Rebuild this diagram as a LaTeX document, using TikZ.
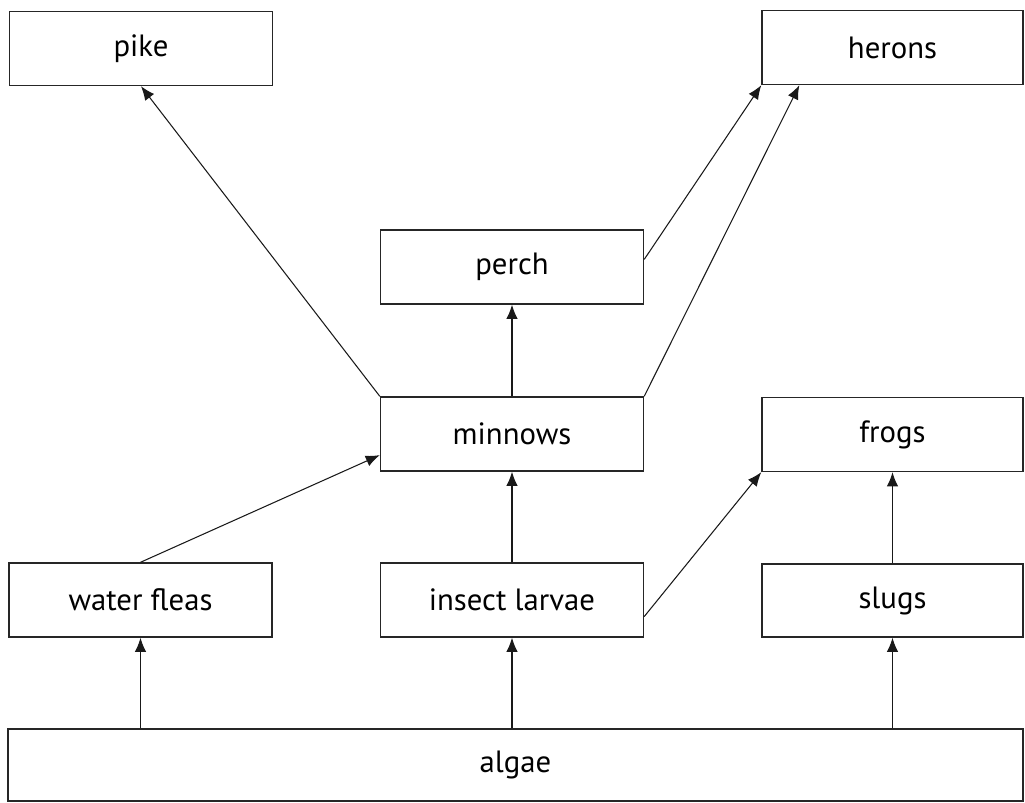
\documentclass[tikz,border=0pt]{standalone}
\usepackage{fontspec}
\setmainfont{PT Sans}
\usetikzlibrary{arrows.meta,calc}
\begin{document}
\begin{tikzpicture}[x=0.02cm,y=-0.02cm,
  box/.style={draw=black!85,line width=0.8pt,minimum width=263*0.02cm,minimum height=74*0.02cm,inner sep=0pt,font=\fontsize{17.5}{20}\selectfont},
  arr/.style={draw=black!90,line width=0.6pt,-{Latex[length=8pt,width=6.4pt]}}]
\useasboundingbox (0,0) rectangle (1025,803);
\node[box] (pike) at (141,48.5) {pike};
\node[box,minimum width=261*0.02cm] (herons) at (892.5,47.5) {herons};
\node[box] (perch) at (512,267) {perch};
\node[box] (minnows) at (512,434) {minnows};
\node[box,minimum width=261*0.02cm] (frogs) at (892.5,434.5) {frogs};
\node[box] (wf) at (140.5,600) {water fleas};
\node[box] (il) at (512,600) {insect larvae};
\node[box,minimum width=261*0.02cm,minimum height=73*0.02cm] (slugs) at (892.5,600.5) {slugs};
\node[box,minimum width=1015*0.02cm,minimum height=72*0.02cm] (algae) at (515.5,765) {algae};
\draw[arr] (algae.north -| wf.south) -- (wf.south);
\draw[arr] (algae.north -| il.south) -- (il.south);
\draw[arr] (algae.north -| slugs.south) -- (slugs.south);
\draw[arr] (slugs.north) -- (frogs.south);
\draw[arr] (il.north) -- (minnows.south);
\draw[arr] ($(il.south east)!0.28!(il.north east)$) -- (frogs.south west);
\draw[arr] (wf.north) -- ($(minnows.south west)!0.22!(minnows.north west)$);
\draw[arr] (minnows.north west) -- (pike.south);
\draw[arr] (minnows.north) -- (perch.south);
\draw[arr] (minnows.north east) -- ($(herons.south west)!0.145!(herons.south east)$);
\draw[arr] ($(perch.south east)!0.6!(perch.north east)$) -- (herons.south west);
\end{tikzpicture}
\end{document}
